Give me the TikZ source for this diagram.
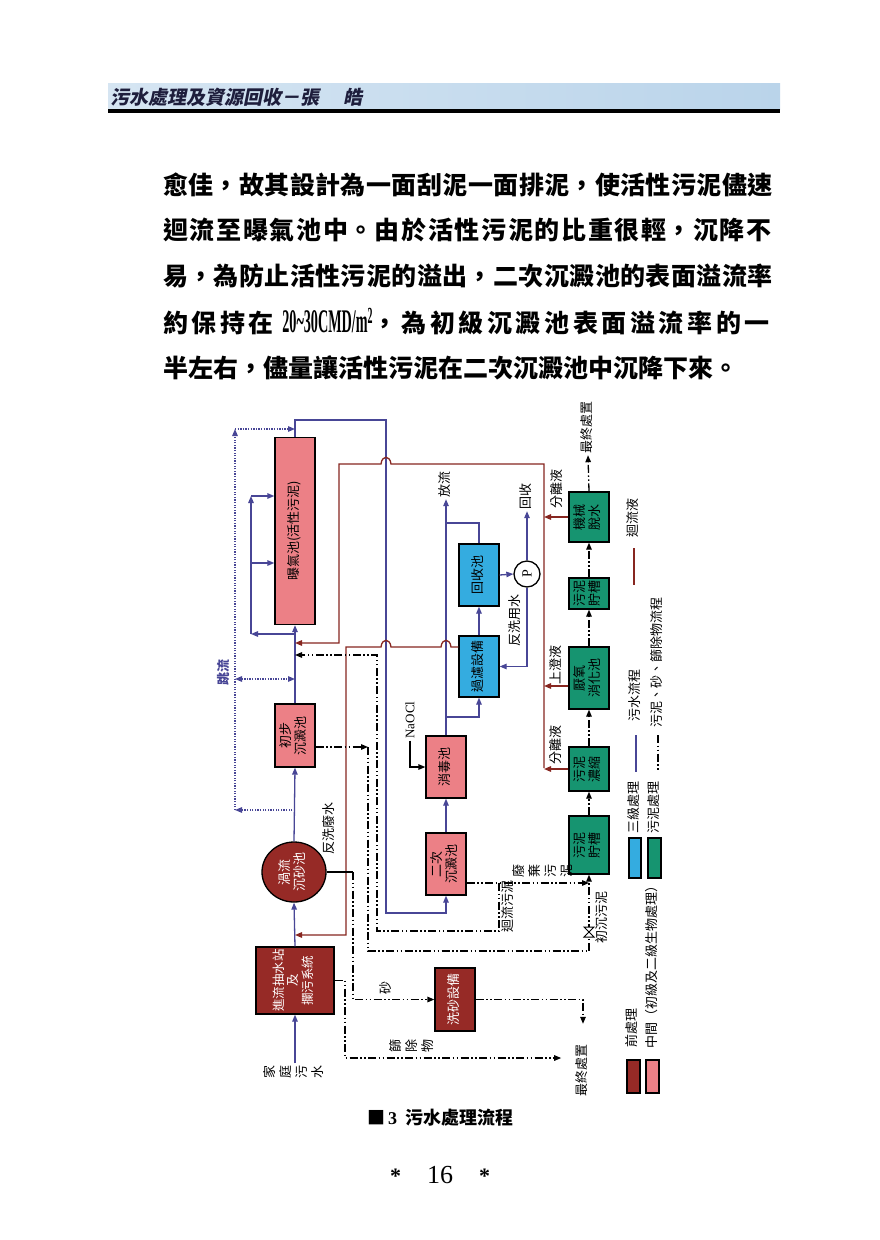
\documentclass[tikz,border=0pt]{standalone}
\usepackage{fontspec}
\usepackage{graphicx}
\usetikzlibrary{arrows.meta, shapes.geometric}
\setmainfont{Liberation Serif}
\newfontfamily\cjk{Noto Sans CJK TC}
\newfontfamily\cjkslant{Noto Sans CJK TC}[FakeSlant=0.2]
\definecolor{FlowBlue}{RGB}{72, 70, 150}
\definecolor{ReturnRed}{RGB}{135, 38, 32}
\definecolor{PrePink}{RGB}{236, 128, 134}
\definecolor{PreRed}{RGB}{150, 42, 38}
\definecolor{TerBlue}{RGB}{52, 172, 224}
\definecolor{SludgeGreen}{RGB}{22, 148, 112}
\definecolor{HeadBlue}{RGB}{186, 212, 234}
\newcommand{\vt}[1]{\rotatebox{90}{\begin{tabular}{@{}c@{}}#1\end{tabular}}}
\newcommand{\vs}[1]{\rotatebox{90}{\def\arraystretch{1.15}\begin{tabular}{@{}c@{}}#1\end{tabular}}}
\newcommand{\jline}[1]{\XeTeXlinebreaklocale "zh"\XeTeXlinebreakskip=0pt plus 1fil\relax\parfillskip=0pt\relax\noindent #1}

\begin{document}
\begin{tikzpicture}[x=1pt, y=-1pt,
    >={Triangle[length=7pt, width=5.5pt]},
    flow/.style={FlowBlue, line width=1.3pt},
    ret/.style={ReturnRed, line width=1.3pt},
    sl/.style={black, line width=1.3pt, dash pattern=on 8pt off 2.5pt on 1.5pt off 2.5pt on 1.5pt off 2.5pt},
    byp/.style={FlowBlue, line width=1.3pt, dash pattern=on 1.3pt off 1.3pt},
    pool/.style={draw=black, line width=1.3pt, inner sep=0pt, minimum width=40pt, font=\cjk\fontsize{13}{14}\selectfont},
    tag/.style={inner sep=2pt, font=\cjk\fontsize{13}{14}\selectfont},
    body/.style={anchor=west, inner sep=0pt, text width=610pt, font=\cjk\bfseries\fontsize{25}{30}\selectfont}]

  % Page
  \fill[white] (0,0) rectangle (880,1240);
  \useasboundingbox (0,0) rectangle (880,1240);

  % Header
  \shade[left color=HeadBlue!60, middle color=white, right color=HeadBlue] (108,83) rectangle (780,109);
  \fill[black] (108,109) rectangle (780,112.5);
  \node[anchor=west, inner sep=0pt, text={rgb,255:red,30;green,30;blue,60}, font=\cjkslant\bfseries\fontsize{19}{19}\selectfont] (head) at (110,97) {污水處理及資源回收－張\hspace{24pt}皓};

  % Body text
  \node[body] (ln1) at (163,185) {\jline{愈佳，故其設計為一面刮泥一面排泥，使活性污泥儘速}};
  \node[body] (ln2) at (163,230) {\jline{迴流至曝氣池中。由於活性污泥的比重很輕，沉降不}};
  \node[body] (ln3) at (163,276) {\jline{易，為防止活性污泥的溢出，二次沉澱池的表面溢流率}};
  \node[body] (ln4) at (163,322) {\jline{約保持在 {\rmfamily\bfseries\fontsize{33}{33}\selectfont\scalebox{0.43}[1]{20\textasciitilde30CMD/m\textsuperscript{2}}}，為初級沉澱池表面溢流率的一}};
  \node[anchor=west, inner sep=0pt, font=\cjk\bfseries\fontsize{25}{30}\selectfont] (ln5) at (163,368) {半左右，儘量讓活性污泥在二次沉澱池中沉降下來。};

  % Treatment units
  \node[pool, fill=PrePink, minimum height=187pt] (aer) at (295,531) {\vt{曝氣池(活性污泥)}};
  \node[pool, fill=PrePink, minimum height=63pt] (prim) at (295,735.5) {\vt{初步\\沉澱池}};
  \node[pool, ellipse, fill=PreRed, text=white, minimum width=64pt, minimum height=60pt] (grit) at (294,872) {\vt{渦流\\沉砂池}};
  \node[pool, fill=PreRed, text=white, minimum width=78pt, minimum height=67pt, font=\cjk\fontsize{12.5}{14}\selectfont] (pump) at (295,980.5) {\vt{進流抽水站\\及\\攔污系統}};
  \node[pool, fill=PrePink, minimum height=62pt] (sec) at (446,864) {\vt{二次\\沉澱池}};
  \node[pool, fill=PrePink, minimum height=62pt] (dis) at (446,767) {\vt{消毒池}};
  \node[pool, fill=TerBlue, minimum height=61pt] (filt) at (479,666.5) {\vt{過濾設備}};
  \node[pool, fill=TerBlue, minimum height=62pt] (rec) at (479,575) {\vt{回收池}};
  \node[circle, draw, line width=1.3pt, fill=white, minimum size=26pt, inner sep=0pt, font=\fontsize{14}{14}\selectfont] (pmp) at (527,574) {\rotatebox{90}{P}};
  \node[pool, fill=SludgeGreen, minimum height=50pt] (dew) at (589,517) {\vt{機械\\脫水}};
  \node[pool, fill=SludgeGreen, minimum height=31pt] (sto1) at (589,593.5) {\vt{污泥\\貯槽}};
  \node[pool, fill=SludgeGreen, minimum height=62pt] (dig) at (589,678) {\vt{厭氧\\消化池}};
  \node[pool, fill=SludgeGreen, minimum height=44pt] (thk) at (589,769) {\vt{污泥\\濃縮}};
  \node[pool, fill=SludgeGreen, minimum height=58pt] (sto2) at (589,845) {\vt{污泥\\貯槽}};
  \node[pool, fill=PreRed, text=white, minimum height=63pt] (sand) at (455,999.5) {\vt{洗砂設備}};

  % Labels
  \node[tag] (inlet) at (295,1072) {\vs{家\\庭\\污\\水}};
  \node[tag] (outfall) at (446,484) {\vt{放流}};
  \node[tag] (reuse) at (527,496) {\vt{回收}};
  \node[tag] (bwuse) at (516,620) {\vt{反洗用水}};
  \node[tag] (bwwaste) at (330,828) {\vt{反洗廢水}};
  \node[tag, font=\fontsize{13}{13}\selectfont] (naocl) at (410,720) {\rotatebox{90}{NaOCl}};
  \node[tag, text=FlowBlue, font=\cjk\bfseries\fontsize{13}{14}\selectfont] (skip) at (225,672) {\vt{跳流}};
  \node[tag] (sep1) at (558,489) {\vt{分離液}};
  \node[tag] (supern) at (557,665) {\vt{上澄液}};
  \node[tag] (sep2) at (557,745) {\vt{分離液}};
  \node[tag] (fin1) at (588,427) {\vt{最終處置}};
  \node[tag] (waste) at (544,871) {\vs{廢\\棄\\污\\泥}};
  \node[tag] (rasl) at (509,906) {\vt{迴流污泥}};
  \node[tag] (prsl) at (603,917) {\vt{初沉污泥}};
  \node[tag] (gritlbl) at (387,988) {\vt{砂}};
  \node[tag] (scr) at (413,1046) {\vs{篩\\除\\物}};
  \node[tag] (fin2) at (583,1070) {\vt{最終處置}};

  % Sewage flow
  \coordinate (aerIn) at (295,634);
  \coordinate (feedA) at (251,634);
  \coordinate (feedB) at (251,563);
  \coordinate (feedC) at (251,496);
  \coordinate (aerOut) at (386,420);
  \coordinate (clarIn) at (386,913);
  \coordinate (toFilt) at (446,717);
  \coordinate (recBack) at (446,523);
  \draw[flow,->] (inlet.north) -- (pump.south);
  \draw[flow,->] (pump.north) -- (grit.south);
  \draw[flow,->] (grit.north) -- (prim.south);
  \draw[flow,->] (prim.north) -- (aer.south);
  \draw[flow,->] (aerIn) -- (feedA);
  \draw[flow,->] (feedA) -- (feedC);
  \draw[flow,->] (feedB) -- (feedB -| aer.west);
  \draw[flow,->] (feedC) -- (feedC -| aer.west);
  \draw[flow,->] (aer.north) |- (aerOut) -- (clarIn) -| (sec.south);
  \draw[flow,->] (sec.north) -- (dis.south);
  \draw[flow,->] (dis.north) -- (outfall.south);
  \draw[flow,->] (toFilt) -| (filt.south);
  \draw[flow,->] (filt.north) -- (rec.south);
  \draw[flow] (rec.north) |- (recBack);
  \draw[flow,->] (rec.east) -- (pmp.west);
  \draw[flow,->] (pmp.north) -- (reuse.south);
  \draw[flow,->] (pmp.south) |- (filt.east);

  % Bypass
  \coordinate (byA) at (295,810);
  \coordinate (byB) at (235,810);
  \coordinate (byC) at (235,429);
  \coordinate (byD) at (295,429);
  \coordinate (byE) at (295,679);
  \coordinate (byF) at (235,679);
  \draw[byp,->] (byA) -- (byB);
  \draw[byp,->] (byB) -- (byC);
  \draw[byp,->] (byC) -- (byD);
  \draw[byp,<->] (byF) -- (byE);

  % Return liquor
  \coordinate (retTop) at (544,464);
  \coordinate (retBot) at (544,768);
  \coordinate (retIn1) at (295,643);
  \coordinate (retIn2) at (295,935);
  \draw[ret,->] (dew.west) -- (dew.west -| retTop);
  \draw[ret,->] ([yshift=-8pt]dig.west) -- ([yshift=-8pt]dig.west -| retTop);
  \draw[ret,->] (thk.west) -- (thk.west -| retTop);
  \draw[ret,->] (retBot) -- (retTop) -- (391,464) .. controls (390,455) and (382,455) .. (381,464) -- (339,464) |- (retIn1);
  \draw[ret,->] ([yshift=19.5pt]filt.west) -- (451,647) .. controls (450,638) and (442,638) .. (441,647) -- (391,647) .. controls (390,638) and (382,638) .. (381,647) -- (346,647) |- (retIn2);

  % Sludge, sand, screenings
  \coordinate (sA) at (368,747);
  \coordinate (sB) at (368,951);
  \coordinate (valve) at (589,932);
  \coordinate (wasJ) at (499,883);
  \coordinate (rasA) at (377,931);
  \coordinate (rasIn) at (295,655);
  \coordinate (gA) at (353,872);
  \coordinate (scA) at (345,1058);
  \draw[sl,->] ([yshift=-11.5pt]prim.east) -- (sA);
  \draw[sl,->] (sA) -- (sB) -| (sto2.south);
  \draw[line width=1pt, fill=white] ([shift={(-5,-5)}]valve) -- ([shift={(5,-5)}]valve) -- ([shift={(-5,5)}]valve) -- ([shift={(5,5)}]valve) -- cycle;
  \draw[sl,->] (sec.east |- wasJ) -- (wasJ -| sto2.south);
  \draw[sl,->] (wasJ) |- (rasA) |- (rasIn);
  \draw[line width=1.3pt] (grit.east) -- (gA);
  \draw[sl,->] (gA) |- (sand.west);
  \draw[sl,->, shorten >=18pt] (sand.east) -| (fin2.north);
  \draw[sl,->, shorten >=12pt] (pump.east) -| (scA) -- (scA -| fin2.west);

  % Sludge treatment
  \draw[sl,->] (sto2.north) -- (thk.south);
  \draw[sl,->] (thk.north) -- (dig.south);
  \draw[sl,->] (dig.north) -- (sto1.south);
  \draw[sl,->] (sto1.north) -- (dew.south);
  \draw[sl,->] (dew.north) -- (fin1.south);

  % Chlorine
  \draw[line width=1.3pt,->] (naocl.south) |- (dis.west);

  % Legend
  \draw[ret] (634,548) -- (634,585);
  \draw[flow] (636,735) -- (636,772);
  \draw[sl] (658,735) -- (658,772);
  \draw[line width=1.3pt, fill=TerBlue] (629,838) rectangle (641,878);
  \draw[line width=1.3pt, fill=SludgeGreen] (648,838) rectangle (661,878);
  \draw[line width=1.3pt, fill=PreRed] (627,1060) rectangle (640,1093);
  \draw[line width=1.3pt, fill=PrePink] (646,1060) rectangle (659,1093);
  \node[tag] (lgRet) at (634,518) {\vt{迴流液}};
  \node[tag] (lgFlow) at (636,695) {\vt{污水流程}};
  \node[tag] (lgSl) at (658,662) {\vt{污泥、砂、篩除物流程}};
  \node[tag] (lgTer) at (635,807) {\vt{三級處理}};
  \node[tag] (lgSld) at (655,807) {\vt{污泥處理}};
  \node[tag] (lgPre) at (633,1028) {\vt{前處理}};
  \node[tag] (lgMid) at (653,964) {\vt{中間（初級及二級生物處理）}};

  % Caption and page number
  \node[font=\cjk\bfseries\fontsize{18}{18}\selectfont] (cap) at (440,1118) {■\hspace{3pt}{\rmfamily\bfseries 3}\hspace{8pt}污水處理流程};
  \node (pageno) at (440,1175) {{\bfseries\fontsize{22}{22}\selectfont *}\hspace{26pt}{\fontsize{26}{26}\selectfont 16}\hspace{26pt}{\bfseries\fontsize{22}{22}\selectfont *}};
\end{tikzpicture}
\end{document}
